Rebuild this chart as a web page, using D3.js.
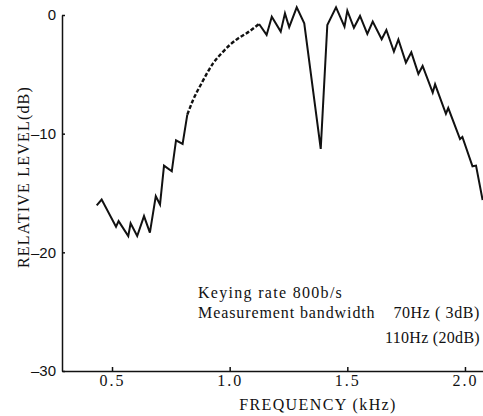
<!DOCTYPE html>
<html>
<head>
<meta charset="utf-8">
<script src="https://cdn.jsdelivr.net/npm/d3@7"></script>
<style>
body { margin: 0; background: #fff; }
svg { display: block; }
.serif { font-family: "Liberation Serif", serif; fill: #111; }
</style>
</head>
<body>
<div id="chart"></div>
<script>
var width = 483;
var height = 416;

// spectrum: frequency in kHz, level in dB
var freqLow = [0.435, 0.456, 0.517, 0.528, 0.569, 0.579, 0.607, 0.636, 0.661, 0.686, 0.704, 0.721, 0.754, 0.772, 0.800, 0.820];
var levelLow = [-16.05, -15.55, -17.84, -17.37, -18.63, -17.56, -18.63, -16.95, -18.34, -15.27, -15.97, -12.69, -13.17, -10.56, -10.87, -8.40];

// dashed stretch
var freqMid = [0.820, 0.845, 0.881, 0.930, 0.966, 1.001, 1.037, 1.072, 1.125];
var levelMid = [-8.40, -7.14, -5.74, -4.06, -3.22, -2.52, -1.96, -1.54, -0.76];

var freqHigh = [1.125, 1.157, 1.179, 1.217, 1.235, 1.253, 1.285, 1.317, 1.387, 1.415, 1.452, 1.488, 1.500, 1.528, 1.554, 1.585, 1.608, 1.646, 1.666, 1.698, 1.717, 1.749, 1.772, 1.802, 1.820, 1.863, 1.873, 1.919, 1.929, 1.979, 1.989, 2.032, 2.047, 2.075];
var levelHigh = [-0.76, -1.68, -0.14, -1.40, 0.14, -1.03, 0.65, -0.70, -11.29, -0.84, 0.65, -0.98, 0.36, -1.08, -0.08, -1.60, -0.56, -2.04, -1.26, -3.08, -2.06, -4.01, -3.15, -4.96, -4.29, -6.53, -5.84, -8.32, -7.84, -10.45, -10.28, -12.75, -12.69, -15.59];

var xTicks = [0.5, 1.0, 1.5, 2.0];
var yTicks = [0, -10, -20, -30];

var notes = ["Keying rate 800b/s", "Measurement bandwidth", "70Hz ( 3dB)", "110Hz (20dB)"];

var xScale = d3.scaleLinear().domain([0.29, 2.1]).range([62.6, 488.5]);
var yScale = d3.scaleLinear().domain([-30, 0]).range([371, 15]);

var svg = d3.select("#chart")
            .append("svg")
            .attr("width", width)
            .attr("height", height);

var line = d3.line()
             .x(function(d) { return xScale(d[0]); })
             .y(function(d) { return yScale(d[1]); });

var smooth = d3.line()
               .curve(d3.curveMonotoneX)
               .x(function(d) { return xScale(d[0]); })
               .y(function(d) { return yScale(d[1]); });

// axes
var xAxis = d3.axisBottom(xScale)
              .tickValues(xTicks)
              .tickFormat(d3.format(".1f"))
              .tickSize(-4)
              .tickSizeOuter(0)
              .tickPadding(4);

var yAxis = d3.axisLeft(yScale)
              .tickValues(yTicks)
              .tickFormat(function(d) { return d < 0 ? "\u2013" + Math.abs(d) : "" + d; })
              .tickSize(-3)
              .tickSizeOuter(0)
              .tickPadding(6);

var gx = svg.append("g")
   .attr("transform", "translate(0," + yScale(-30) + ")")
   .call(xAxis);

gx.selectAll("path, line").attr("stroke", "#111").attr("stroke-width", 1.5);
gx.selectAll("text")
  .attr("class", "serif")
  .style("font-size", "16px")
  .style("letter-spacing", "2px");

var gy = svg.append("g")
   .attr("transform", "translate(62,0)")
   .call(yAxis);

gy.selectAll("path, line").attr("stroke", "#111").attr("stroke-width", 1.5);
gy.selectAll("text")
  .style("font-family", "'Liberation Sans', Arial, sans-serif")
  .style("font-size", "15px")
  .attr("fill", "#111");

// curve
svg.append("path")
   .datum(d3.zip(freqLow, levelLow))
   .attr("fill", "none")
   .attr("stroke", "#111")
   .attr("stroke-width", 2)
   .attr("stroke-linejoin", "miter")
   .attr("d", line);

svg.append("path")
   .datum(d3.zip(freqMid, levelMid))
   .attr("fill", "none")
   .attr("stroke", "#111")
   .attr("stroke-width", 2.4)
   .attr("stroke-dasharray", "4,2")
   .attr("d", smooth);

svg.append("path")
   .datum(d3.zip(freqHigh, levelHigh))
   .attr("fill", "none")
   .attr("stroke", "#111")
   .attr("stroke-width", 2)
   .attr("stroke-linejoin", "miter")
   .attr("d", line);

// axis titles
svg.append("text")
   .attr("class", "serif")
   .attr("x", 318)
   .attr("y", 410)
   .attr("text-anchor", "middle")
   .style("font-size", "16px")
   .style("letter-spacing", "1.4px")
   .text("FREQUENCY (kHz)");

svg.append("text")
   .attr("class", "serif")
   .attr("transform", "translate(29,177) rotate(-90)")
   .attr("text-anchor", "middle")
   .style("font-size", "16px")
   .style("letter-spacing", "1.2px")
   .text("RELATIVE LEVEL(dB)");

// notes
svg.append("text").attr("class", "serif")
   .attr("x", 198).attr("y", 298)
   .style("font-size", "16px").style("letter-spacing", "1.3px")
   .text(notes[0]);

svg.append("text").attr("class", "serif")
   .attr("x", 198).attr("y", 318)
   .style("font-size", "16px").style("letter-spacing", "0.9px")
   .text(notes[1]);

svg.append("text").attr("class", "serif")
   .attr("x", 480).attr("y", 318)
   .attr("text-anchor", "end")
   .style("font-size", "16px").style("letter-spacing", "0.6px")
   .text(notes[2]);

svg.append("text").attr("class", "serif")
   .attr("x", 480).attr("y", 343)
   .attr("text-anchor", "end")
   .style("font-size", "16px").style("letter-spacing", "0.3px")
   .text(notes[3]);
</script>
</body>
</html>
